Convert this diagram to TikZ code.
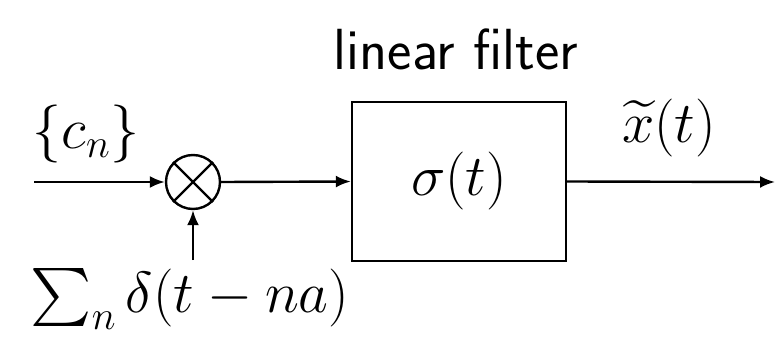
\documentclass[tikz,border=0pt]{standalone}
\usepackage{fix-cm}
\usepackage{amsmath}
\usepackage{exscale}
\DeclareFontShape{OMX}{cmex}{m}{n}{<-> cmex10}{}
\usetikzlibrary{arrows.meta}
\begin{document}
\begin{tikzpicture}[x=1pt,y=1pt,
  big/.style={font=\fontsize{58}{62}\selectfont, inner sep=0pt},
  wire/.style={line width=2.4pt},
  arr/.style={wire,-{Latex[length=15pt,width=12pt]}},
  filterbox/.style={draw,line width=2.4pt,minimum width=214pt,minimum height=159pt,inner sep=0pt},
  mixer/.style={draw,circle,line width=2.4pt,minimum size=54pt,inner sep=0pt}]
\useasboundingbox (0,0) rectangle (775,343);
\coordinate (in) at (34,161);
\node[mixer] (m) at (193,161) {};
\draw[wire] (m.45) -- (m.225);
\draw[wire] (m.135) -- (m.315);
\node[filterbox] (f) at (459,161.5) {};
\node[big] (sig) at (f.center) {$\sigma(t)$};
\coordinate (out) at (775,161);
\coordinate (pulse) at (193,83);
\draw[arr] (in) -- (m.west);
\draw[arr] (m.east) -- (f.west);
\draw[arr] (f.east) -- (out);
\draw[arr] (pulse) -- (m.south);
\node[big,font=\fontsize{58}{62}\selectfont\sffamily,anchor=base] (lf) at (456,273) {linear filter};
\node[big] (cn) at (86,209) {$\{c_n\}$};
\node[big] (xt) at (669,215) {$\widetilde{x}(t)$};
\node[big] (sum) at (190,44) {$\sum_n \delta(t-na)$};
\end{tikzpicture}
\end{document}
